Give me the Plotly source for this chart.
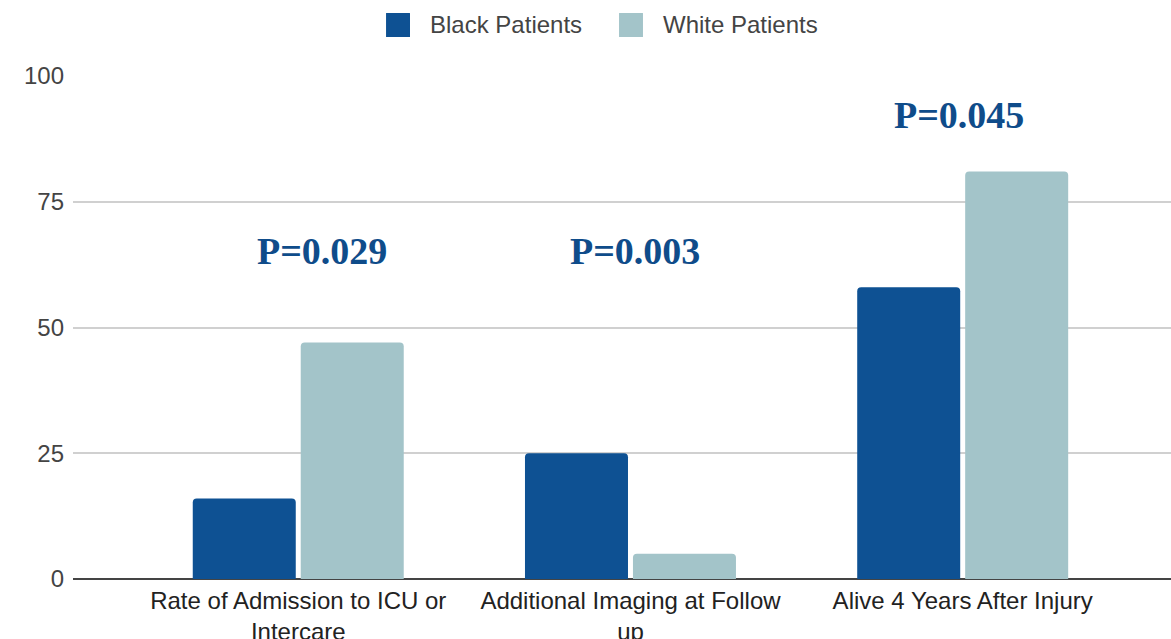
import plotly.graph_objects as go

categories = ["Rate of Admission to ICU or<br>Intercare",
              "Additional Imaging at Follow<br>up",
              "Alive 4 Years After Injury"]
series_names = ["Black Patients", "White Patients"]
black_patients = [16, 25, 58]
white_patients = [47, 5, 81]
p_labels = ["P=0.029", "P=0.003", "P=0.045"]
p_label_y = [65.3, 65.3, 92.2]
p_label_x = [0.07, 1.015, 1.99]
y_ticks = [0, 25, 50, 75, 100]

BLACK_COLOR = "#0e5193"
WHITE_COLOR = "#a3c4c9"
P_COLOR = "#0f4c8a"
colors = [BLACK_COLOR, WHITE_COLOR]

fig = go.Figure()
for name, vals, col in zip(series_names, [black_patients, white_patients], colors):
    fig.add_trace(go.Bar(x=[0, 1, 2], y=vals, name=name, showlegend=False,
                         marker=dict(color=col, cornerradius=4, line=dict(width=0))))

for x, y, t in zip(p_label_x, p_label_y, p_labels):
    fig.add_annotation(x=x, y=y, text="<b>" + t + "</b>", showarrow=False,
                       font=dict(family="Liberation Serif, Times New Roman, serif", size=38, color=P_COLOR),
                       xanchor="center", yanchor="middle")

# custom legend (large square swatches like the reference)
legend_swatch_x = [0.2851, 0.4973]
legend_text_x = [0.3233, 0.5355]
sw_w = 0.0218
for name, col, sx, tx in zip(series_names, colors, legend_swatch_x, legend_text_x):
    fig.add_shape(type="rect", xref="paper", yref="paper", x0=sx, x1=sx + sw_w, y0=1.0775, y1=1.1252,
                  fillcolor=col, line=dict(width=0), layer="above")
    fig.add_annotation(xref="paper", yref="paper", x=tx, y=1.1014, text=name, showarrow=False,
                       xanchor="left", yanchor="middle",
                       font=dict(family="Liberation Sans, Arial, sans-serif", size=24, color="#444444"))

fig.update_layout(
    width=1171, height=639,
    margin=dict(l=73, r=0, t=76, b=60, autoexpand=False),
    paper_bgcolor="white", plot_bgcolor="white",
    barmode="group", bargap=0.35, bargroupgap=0.046,
    font=dict(family="Liberation Sans, Arial, sans-serif", size=24, color="#222222"),
    showlegend=False,
)
fig.update_xaxes(range=[-0.678, 2.627], tickmode="array", tickvals=[0, 1, 2], ticktext=categories,
                 showgrid=False, showline=False, zeroline=False, ticks="", automargin=False,
                 tickfont=dict(size=24, color="#222222"), tickangle=0, ticklabelstandoff=5)
fig.update_yaxes(range=[0, 100], tickvals=y_ticks, showgrid=True, gridcolor="#d0d0d0", gridwidth=1.5,
                 zeroline=True, zerolinecolor="#444444", zerolinewidth=2, automargin=False,
                 tickfont=dict(size=24, color="#444444"), ticklabelstandoff=8)

fig.write_html("out.html", config={"displayModeBar": False},
               post_script="document.body.style.margin='0';document.body.style.overflow='hidden';")
